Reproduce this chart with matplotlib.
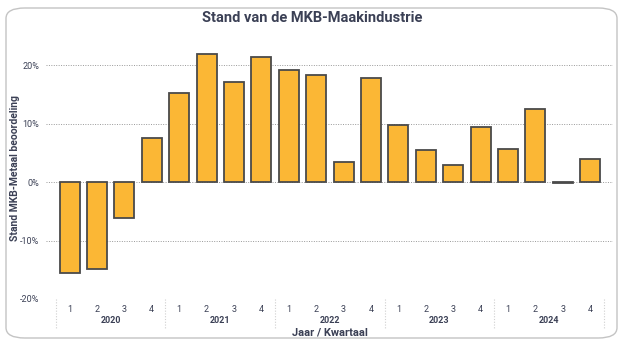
import matplotlib
matplotlib.use("Agg")
import matplotlib.pyplot as plt
import matplotlib.patches as mpatches
import numpy as np

years = ["2020", "2021", "2022", "2023", "2024"]
quarters = ["1", "2", "3", "4"]
values = [-15.5, -14.9, -6.2, 7.5,
          15.2, 22.0, 17.1, 21.4,
          19.1, 18.3, 3.4, 17.8,
          9.7, 5.5, 2.9, 9.4,
          5.6, 12.5, -0.2, 3.9]
yticks = [-20, -10, 0, 10, 20]

text_color = "#3b4055"
bar_color = "#FBB735"
edge_color = "#4a4a4a"

plt.rcParams['font.family'] = ['Roboto', 'DejaVu Sans']

fig = plt.figure(figsize=(6.25, 3.46), dpi=100)

# rounded card behind the chart
card = mpatches.FancyBboxPatch((6 / 625, 8 / 346), 611 / 625, 330 / 346,
                               boxstyle="round,pad=0,rounding_size=0.03",
                               transform=fig.transFigure, facecolor="white",
                               edgecolor="#c4c4c4", linewidth=1.0, zorder=-5)
fig.patches.append(card)

ax = fig.add_axes([46 / 625, 47 / 346, 567 / 625, 263 / 346])
ax.set_facecolor("none")

x = np.arange(len(values))
ax.bar(x, values, width=0.73, color=bar_color, edgecolor=edge_color,
       linewidth=1.3, zorder=3)

ax.set_ylim(-20, 25)
ax.set_xlim(-0.86, 19.83)
ax.set_yticks(yticks)
ax.set_yticklabels([f"{t}%" for t in yticks], fontsize=6.5, color=text_color)
ax.tick_params(axis="y", length=0, pad=5)
ax.yaxis.grid(True, linestyle=(0, (1, 1.5)), color="#999999", linewidth=0.7)
ax.set_axisbelow(True)
for s in ax.spines.values():
    s.set_visible(False)

# two-level category axis: quarters then years
ax.set_xticks(x)
ax.set_xticklabels(quarters * len(years), fontsize=6.5, color=text_color)
ax.tick_params(axis="x", length=0, pad=4)
for i, yr in enumerate(years):
    ax.annotate(yr, xy=(i * 4 + 1.5, 0), xycoords=("data", "axes fraction"),
                xytext=(0, -12.5), textcoords="offset points", ha="center",
                va="top", fontsize=6.5, color=text_color, fontweight="bold")
for i in range(len(years) + 1):
    ax.plot([i * 4 - 0.5, i * 4 - 0.5], [0, -0.115], transform=ax.get_xaxis_transform(),
            clip_on=False, color="#d0d0d0", linewidth=0.8, linestyle=(0, (1, 1.5)))

fig.text(330 / 625, 1 - 333 / 346, "Jaar / Kwartaal", ha="center", va="center",
         fontsize=8, color=text_color, fontweight="bold")
fig.text(15 / 625, 1 - 168 / 346, "Stand MKB-Metaal beoordeling", ha="center",
         va="center", rotation=90, fontsize=7.5, color=text_color, fontweight="bold")
fig.text(0.5, 1 - 18 / 346, "Stand van de MKB-Maakindustrie", ha="center",
         va="center", fontsize=10.5, fontweight="bold", color=text_color)

fig.savefig("out.png", dpi=100)
